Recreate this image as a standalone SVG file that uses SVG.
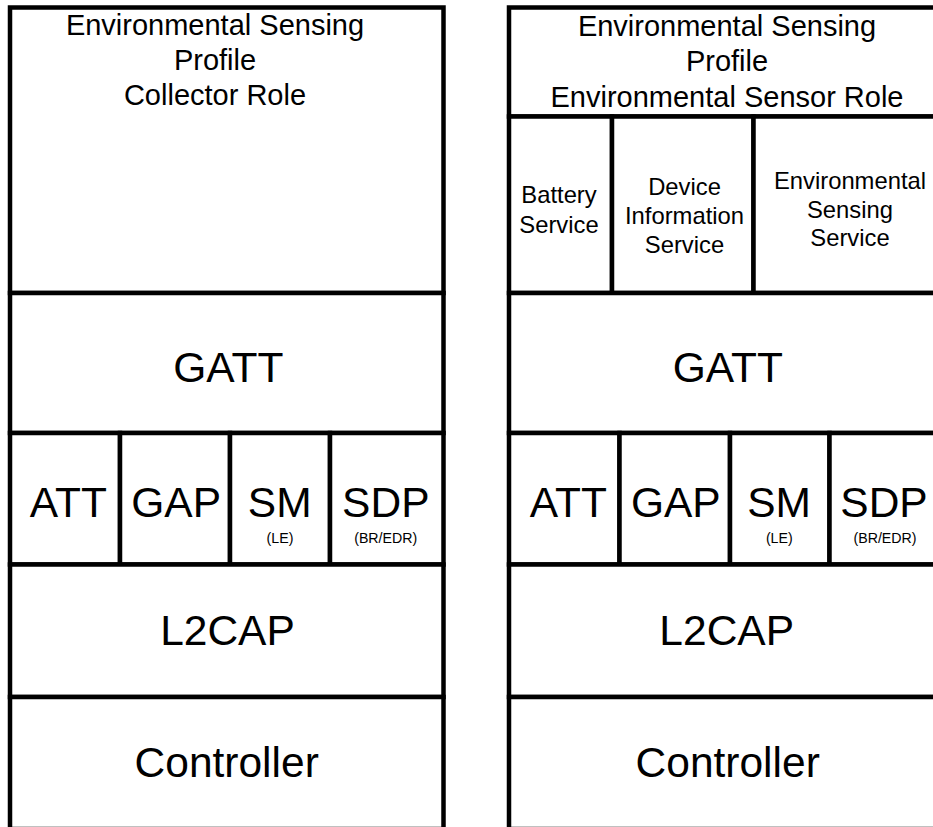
<svg xmlns="http://www.w3.org/2000/svg" width="933" height="827" viewBox="0 0 933 827">
<style>
.b{fill:#fff;stroke:#000;stroke-width:4.5}
.d{stroke:#000;stroke-width:4.5;fill:none}
text{font-family:"Liberation Sans",Arial,sans-serif;fill:#000;text-anchor:middle}
.h{font-size:29px}
.s{font-size:23.8px}
.l{font-size:42.5px}
.t{font-size:14.2px}
</style>
<rect width="933" height="827" fill="#fff"/>
<g id="left-stack">
<g id="left-profile"><rect class="b" x="10" y="7.5" width="433.5" height="285.5"/>
<text class="h" x="215" y="34.5">Environmental Sensing</text>
<text class="h" x="215" y="70">Profile</text>
<text class="h" x="215" y="105">Collector Role</text></g>
<g id="left-gatt"><rect class="b" x="10" y="293" width="433.5" height="140"/>
<text class="l" x="228.3" y="381.7">GATT</text></g>
<g id="left-att"><rect class="b" x="10" y="433" width="110" height="131.5"/>
<text class="l" x="68.3" y="516.7">ATT</text></g>
<g id="left-gap"><rect class="b" x="120" y="433" width="110" height="131.5"/>
<text class="l" x="176.2" y="516.7">GAP</text></g>
<g id="left-sm"><rect class="b" x="230" y="433" width="100" height="131.5"/>
<text class="l" x="279.7" y="516.7">SM</text>
<text class="t" x="280" y="542.7">(LE)</text></g>
<g id="left-sdp"><rect class="b" x="330" y="433" width="113.5" height="131.5"/>
<line class="d" x1="330" y1="564" x2="330" y2="568"/>
<text class="l" x="385.8" y="516.7">SDP</text>
<text class="t" x="385.7" y="542.7">(BR/EDR)</text></g>
<g id="left-l2cap"><rect class="b" x="10" y="564.5" width="433.5" height="132.5"/>
<text class="l" x="227.5" y="645">L2CAP</text></g>
<g id="left-controller"><rect class="b" x="10" y="697" width="433.5" height="132"/>
<text class="l" x="226.7" y="776.7">Controller</text></g>
</g>
<g id="right-stack">
<g id="right-profile"><rect class="b" x="509" y="7.5" width="440" height="109"/>
<text class="h" x="727" y="36">Environmental Sensing</text>
<text class="h" x="727" y="71">Profile</text>
<text class="h" x="727" y="106.5">Environmental Sensor Role</text></g>
<g id="right-battery"><rect class="b" x="509" y="116.5" width="103" height="176.5"/>
<text class="s" x="559" y="203">Battery</text>
<text class="s" x="559" y="232.5">Service</text></g>
<g id="right-dis"><rect class="b" x="612" y="116.5" width="141.5" height="176.5"/>
<text class="s" x="684.5" y="194.5">Device</text>
<text class="s" x="684.5" y="223.5">Information</text>
<text class="s" x="684.5" y="252.5">Service</text></g>
<g id="right-ess"><rect class="b" x="753.5" y="116.5" width="195.5" height="176.5"/>
<text class="s" x="850" y="188.5">Environmental</text>
<text class="s" x="850" y="217.5">Sensing</text>
<text class="s" x="850" y="246">Service</text></g>
<g id="right-gatt"><rect class="b" x="509" y="293" width="440" height="140"/>
<text class="l" x="727.8" y="381.7">GATT</text></g>
<g id="right-att"><rect class="b" x="509" y="433" width="110.5" height="131.5"/>
<text class="l" x="568.3" y="516.7">ATT</text></g>
<g id="right-gap"><rect class="b" x="619.5" y="433" width="110.5" height="131.5"/>
<text class="l" x="675.8" y="516.7">GAP</text></g>
<g id="right-sm"><rect class="b" x="730" y="433" width="99.5" height="131.5"/>
<text class="l" x="779" y="516.7">SM</text>
<text class="t" x="779.3" y="542.7">(LE)</text></g>
<g id="right-sdp"><rect class="b" x="829.5" y="433" width="119.5" height="131.5"/>
<line class="d" x1="829.5" y1="564" x2="829.5" y2="568"/>
<text class="l" x="884" y="516.7">SDP</text>
<text class="t" x="885" y="542.7">(BR/EDR)</text></g>
<g id="right-l2cap"><rect class="b" x="509" y="564.5" width="440" height="132.5"/>
<text class="l" x="726.7" y="645">L2CAP</text></g>
<g id="right-controller"><rect class="b" x="509" y="697" width="440" height="132"/>
<text class="l" x="727.7" y="776.7">Controller</text></g>
</g>
<g id="connectors"></g>
</svg>
